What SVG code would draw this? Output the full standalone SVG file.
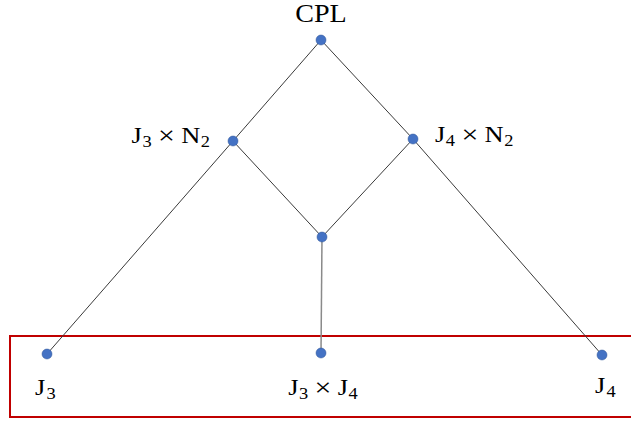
<svg xmlns="http://www.w3.org/2000/svg" width="631" height="424" viewBox="0 0 631 424">
<style>
.edge{stroke:#3a3a3a;stroke-width:1;fill:none}
.edge2{stroke:#8a8a8a;stroke-width:1.5;fill:none}
.dot{fill:#4472C4;stroke:#2f5597;stroke-width:0.5}
.lbl{font-family:"Liberation Serif","DejaVu Serif",serif;font-size:23px;fill:#000}
.sub{font-size:16px}
.op{font-size:26px}
</style>
<rect width="631" height="424" fill="#fff"/>
<rect x="10" y="336" width="640" height="81" fill="none" stroke="#C00000" stroke-width="2"/>
<g id="connectors">
<line class="edge" x1="321" y1="40" x2="233" y2="141"/>
<line class="edge" x1="321" y1="40" x2="413" y2="139"/>
<line class="edge" x1="233" y1="141" x2="47" y2="354"/>
<line class="edge" x1="413" y1="139" x2="602" y2="355"/>
<line class="edge" x1="233" y1="141" x2="322" y2="237"/>
<line class="edge" x1="413" y1="139" x2="322" y2="237"/>
<line class="edge2" x1="322" y1="237" x2="321" y2="353"/>
</g>
<g id="n-cpl"><circle class="dot" cx="321" cy="40" r="5"/><text class="lbl" transform="translate(321,22) scale(1.08,1)" text-anchor="middle" style="font-size:26px">CPL</text></g>
<g id="n-j3n2"><circle class="dot" cx="233" cy="141" r="5"/><text class="lbl" transform="translate(210,143) scale(1.15,1)" text-anchor="end">J<tspan class="sub" dx="0.5" dy="4">3</tspan><tspan class="op" dx="5.5" dy="-3">×</tspan><tspan dx="5.5" dy="-1">N</tspan><tspan class="sub" dx="0.5" dy="4">2</tspan></text></g>
<g id="n-j4n2"><circle class="dot" cx="413" cy="139" r="5"/><text class="lbl" transform="translate(435,142) scale(1.15,1)">J<tspan class="sub" dx="0.5" dy="4">4</tspan><tspan class="op" dx="5.5" dy="-3">×</tspan><tspan dx="5.5" dy="-1">N</tspan><tspan class="sub" dx="0.5" dy="4">2</tspan></text></g>
<g id="n-mid"><circle class="dot" cx="322" cy="237" r="5"/></g>
<g id="n-j3"><circle class="dot" cx="47" cy="354" r="5"/><text class="lbl" transform="translate(35,395) scale(1.15,1)">J<tspan class="sub" dx="1" dy="4">3</tspan></text></g>
<g id="n-j3j4"><circle class="dot" cx="321" cy="353" r="5"/><text class="lbl" transform="translate(323,395) scale(1.15,1)" text-anchor="middle">J<tspan class="sub" dx="0.5" dy="4">3</tspan><tspan class="op" dx="5.5" dy="-3">×</tspan><tspan dx="5.5" dy="-1">J</tspan><tspan class="sub" dx="0.5" dy="4">4</tspan></text></g>
<g id="n-j4"><circle class="dot" cx="602" cy="355" r="5"/><text class="lbl" transform="translate(595,393) scale(1.15,1)">J<tspan class="sub" dx="1" dy="4">4</tspan></text></g>
</svg>
